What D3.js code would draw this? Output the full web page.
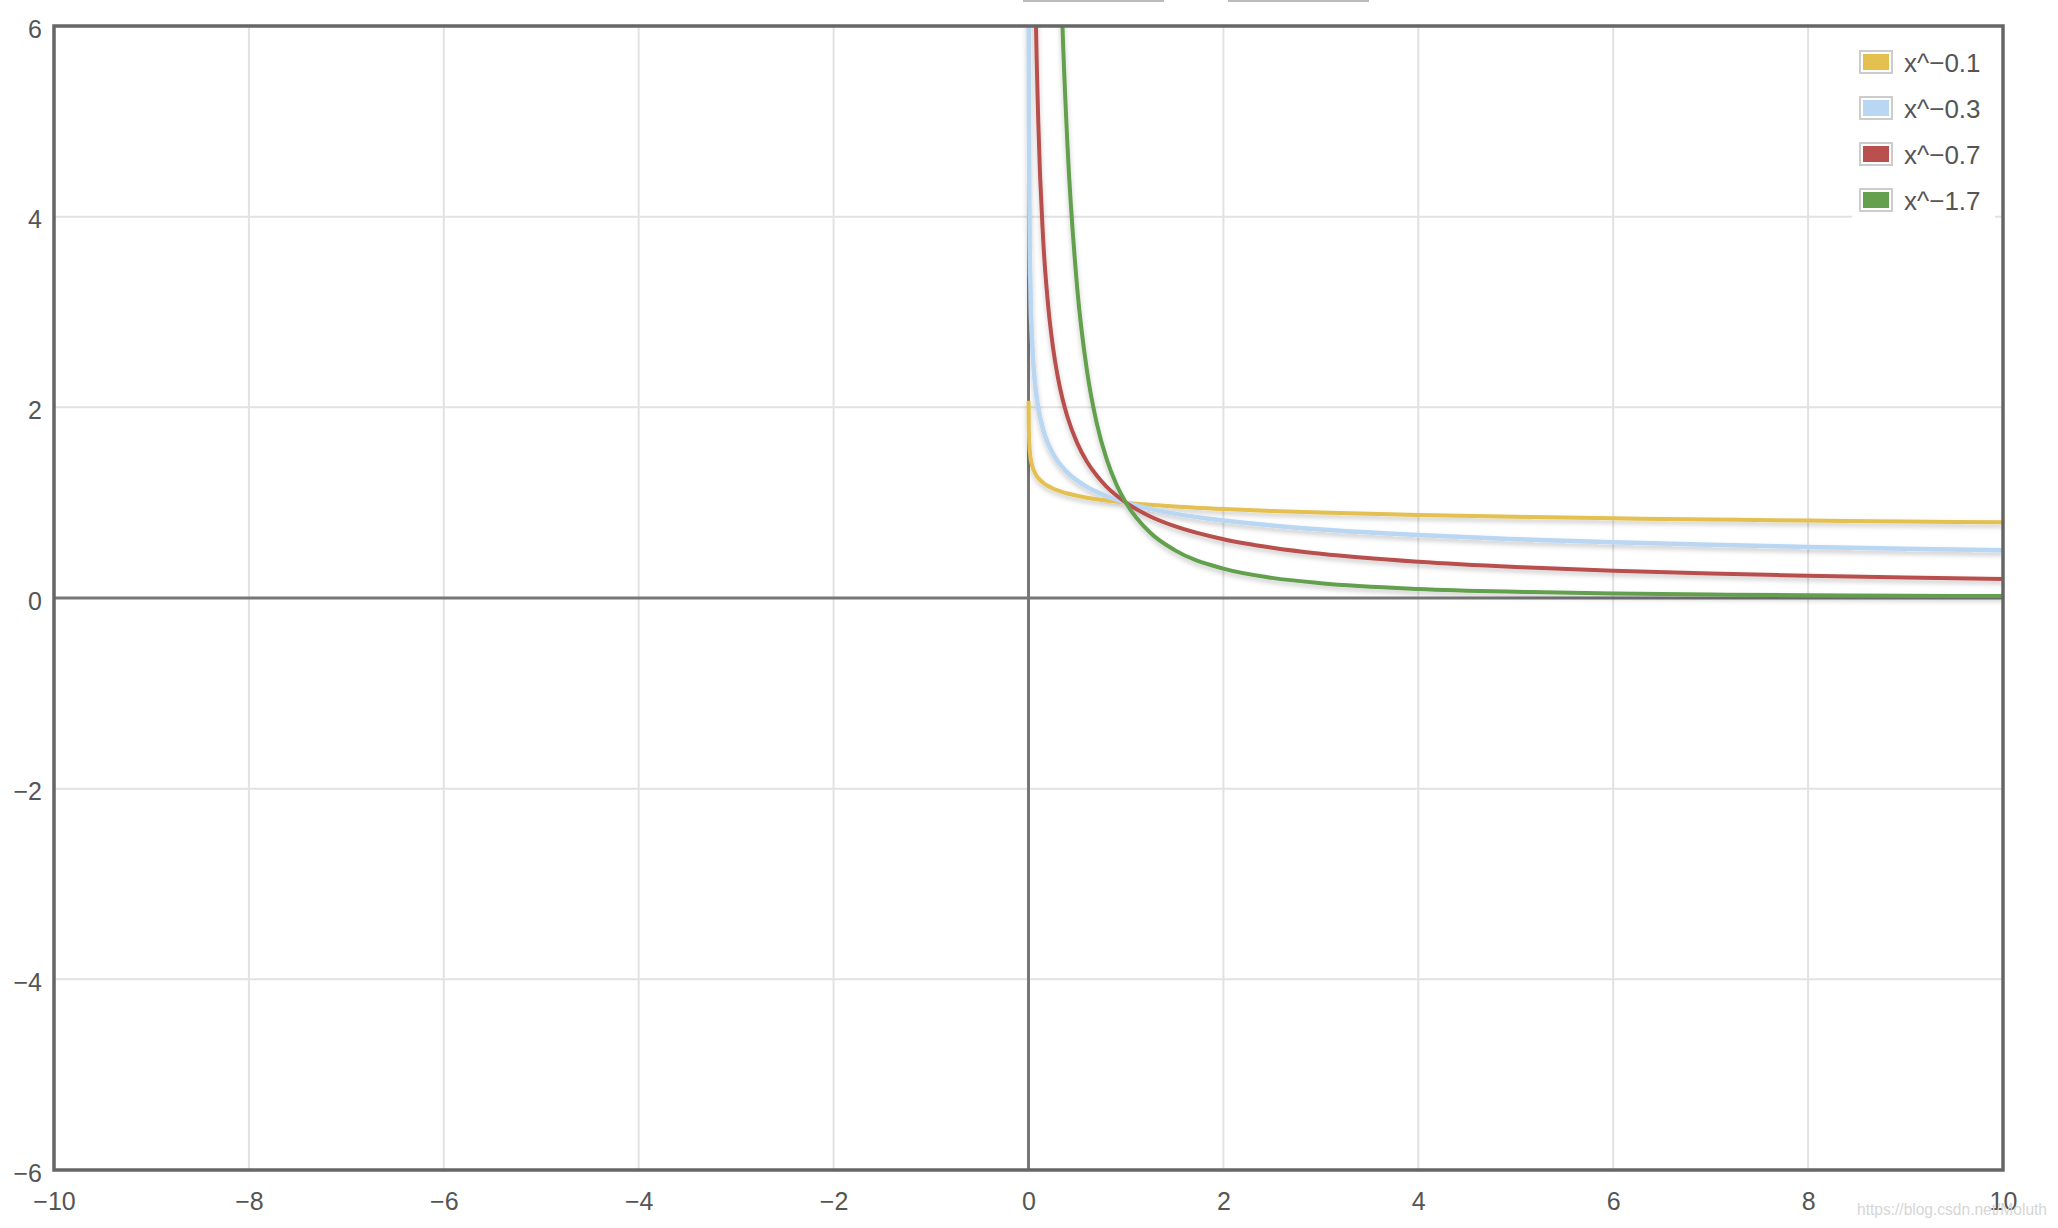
<!DOCTYPE html>
<html>
<head>
<meta charset="utf-8">
<script src="https://cdn.jsdelivr.net/npm/d3@7"></script>
<style>
  html, body { margin: 0; padding: 0; background: #fff; }
  svg { display: block; font-family: "Liberation Sans", Arial, sans-serif; }
  .tick-label { fill: #555; font-size: 25px; }
  .legend-text { fill: #555; font-size: 26px; }
</style>
</head>
<body>
<div id="chart"></div>
<script>
// ---------- DATA ----------
const xTicks = [-10, -8, -6, -4, -2, 0, 2, 4, 6, 8, 10];
const yTicks = [-6, -4, -2, 0, 2, 4, 6];

// sample points (null = far above the plot)
const xSamples = [0.0007, 0.002, 0.005, 0.01, 0.02, 0.04, 0.07, 0.1, 0.15, 0.2, 0.25, 0.3, 0.35, 0.4, 0.5, 0.6, 0.7, 0.8, 0.9, 1, 1.25, 1.5, 2, 2.5, 3, 4, 5, 6, 7, 8, 9, 10];
const yMinus01 = [2.068, 1.862, 1.699, 1.585, 1.479, 1.380, 1.305, 1.259, 1.209, 1.175, 1.149, 1.128, 1.111, 1.096, 1.072, 1.052, 1.036, 1.023, 1.011, 1, 0.978, 0.960, 0.933, 0.912, 0.896, 0.871, 0.851, 0.836, 0.823, 0.812, 0.803, 0.794];
const yMinus03 = [8.84, 6.45, 4.90, 3.98, 3.234, 2.627, 2.221, 1.995, 1.767, 1.621, 1.516, 1.435, 1.370, 1.316, 1.231, 1.166, 1.113, 1.069, 1.032, 1, 0.935, 0.885, 0.812, 0.760, 0.719, 0.660, 0.617, 0.584, 0.558, 0.536, 0.517, 0.501];
const yMinus07 = [null, 77.5, 40.8, 25.1, 15.46, 9.52, 6.43, 5.01, 3.77, 3.085, 2.639, 2.323, 2.085, 1.899, 1.625, 1.430, 1.284, 1.169, 1.077, 1, 0.855, 0.753, 0.616, 0.527, 0.463, 0.379, 0.324, 0.285, 0.256, 0.233, 0.215, 0.200];
const yMinus17 = [null, null, null, null, null, null, 91.9, 50.1, 25.2, 15.43, 10.56, 7.74, 5.958, 4.748, 3.249, 2.383, 1.834, 1.461, 1.196, 1, 0.684, 0.502, 0.308, 0.211, 0.155, 0.0947, 0.0648, 0.0476, 0.0366, 0.0292, 0.0239, 0.0200];

const seriesNames = ["x^−0.1", "x^−0.3", "x^−0.7", "x^−1.7"];
const seriesValues = [yMinus01, yMinus03, yMinus07, yMinus17];
const seriesColors = ["#e3c050", "#b9d6f2", "#b9504e", "#64a04e"];
const seriesWidths = [4, 4.5, 4, 4];

// ---------- LAYOUT ----------
const W = 2058, H = 1228;
const plot = { left: 54, right: 2003, top: 26, bottom: 1170 };

const svg = d3.select("#chart")
  .append("svg")
  .attr("width", W)
  .attr("height", H);

const defs = svg.append("defs");
defs.append("clipPath").attr("id", "plot-clip")
  .append("rect")
  .attr("x", plot.left)
  .attr("y", plot.top)
  .attr("width", plot.right - plot.left)
  .attr("height", plot.bottom - plot.top);

const shadow = defs.append("filter").attr("id", "shadow")
  .attr("x", "-5%").attr("y", "-5%").attr("width", "110%").attr("height", "120%");
shadow.append("feDropShadow")
  .attr("dx", 0).attr("dy", 3)
  .attr("stdDeviation", 2.5)
  .attr("flood-color", "#000")
  .attr("flood-opacity", 0.22);

const x = d3.scaleLinear().domain([-10, 10]).range([plot.left, plot.right]);
const y = d3.scaleLinear().domain([-6, 6]).range([plot.bottom, plot.top]);

// clipped bits of something above the chart
svg.append("g").selectAll("rect")
  .data([[1023, 1164], [1228, 1369]])
  .enter().append("rect")
  .attr("x", d => d[0]).attr("y", 0)
  .attr("width", d => d[1] - d[0]).attr("height", 2)
  .attr("fill", "#bbb");

// ---------- GRID ----------
const grid = svg.append("g").attr("stroke", "#e2e2e2").attr("stroke-width", 2);
grid.selectAll(".gx")
  .data(xTicks.filter(v => v !== 0 && Math.abs(v) !== 10))
  .enter().append("line")
  .attr("x1", d => x(d)).attr("x2", d => x(d))
  .attr("y1", plot.top).attr("y2", plot.bottom);
grid.selectAll(".gy")
  .data(yTicks.filter(v => v !== 0 && Math.abs(v) !== 6))
  .enter().append("line")
  .attr("x1", plot.left).attr("x2", plot.right)
  .attr("y1", d => y(d)).attr("y2", d => y(d));

// zero axes
svg.append("line")
  .attr("x1", x(0)).attr("x2", x(0))
  .attr("y1", plot.top).attr("y2", plot.bottom)
  .attr("stroke", "#777").attr("stroke-width", 3);
svg.append("line")
  .attr("x1", plot.left).attr("x2", plot.right)
  .attr("y1", y(0)).attr("y2", y(0))
  .attr("stroke", "#777").attr("stroke-width", 3);

// ---------- CURVES ----------
const line = d3.line()
  .defined(d => d[1] !== null)
  .x(d => x(d[0]))
  .y(d => y(d[1]))
  .curve(d3.curveMonotoneX);

const curves = svg.append("g")
  .attr("clip-path", "url(#plot-clip)")
  .attr("filter", "url(#shadow)");

seriesValues.forEach((vals, i) => {
  curves.append("path")
    .datum(xSamples.map((xv, j) => [xv, vals[j]]))
    .attr("d", line)
    .attr("fill", "none")
    .attr("stroke", seriesColors[i])
    .attr("stroke-width", seriesWidths[i])
    .attr("stroke-linejoin", "round");
});

// frame
svg.append("rect")
  .attr("x", plot.left).attr("y", plot.top)
  .attr("width", plot.right - plot.left)
  .attr("height", plot.bottom - plot.top)
  .attr("fill", "none")
  .attr("stroke", "#666")
  .attr("stroke-width", 3.5);

// ---------- AXES (labels only) ----------
const xAxis = svg.append("g")
  .attr("transform", `translate(0,${plot.bottom})`)
  .call(d3.axisBottom(x).tickValues(xTicks).tickSize(0).tickPadding(0));
xAxis.select(".domain").remove();
xAxis.selectAll("text")
  .attr("class", "tick-label")
  .attr("y", 40)
  .attr("dy", 0)
  .attr("font-family", null)
  .attr("font-size", null)
  .attr("fill", null);

const yAxis = svg.append("g")
  .attr("transform", `translate(${plot.left},0)`)
  .call(d3.axisLeft(y).tickValues(yTicks).tickSize(0).tickPadding(0));
yAxis.select(".domain").remove();
yAxis.selectAll("text")
  .attr("class", "tick-label")
  .attr("x", -12)
  .attr("dy", 11)
  .attr("font-family", null)
  .attr("font-size", null)
  .attr("fill", null);

// ---------- LEGEND ----------
const legend = svg.append("g");
legend.append("rect")
  .attr("x", 1852).attr("y", 36)
  .attr("width", 143).attr("height", 186)
  .attr("fill", "#fff");

const rows = legend.selectAll(".row")
  .data(seriesNames)
  .enter().append("g")
  .attr("transform", (d, i) => `translate(1859,${50 + i * 46})`);
rows.append("rect")
  .attr("x", 1).attr("y", 1)
  .attr("width", 32).attr("height", 22)
  .attr("fill", "#fff")
  .attr("stroke", "#ccc")
  .attr("stroke-width", 2);
rows.append("rect")
  .attr("x", 4).attr("y", 4)
  .attr("width", 26).attr("height", 16)
  .attr("fill", (d, i) => seriesColors[i]);
rows.append("text")
  .attr("class", "legend-text")
  .attr("x", 45)
  .attr("y", 22)
  .text(d => d);

// watermark
svg.append("text")
  .attr("x", 1857).attr("y", 1215)
  .attr("fill", "#d6d6d6")
  .attr("font-size", 16)
  .attr("textLength", 190)
  .attr("lengthAdjust", "spacingAndGlyphs")
  .text("https://blog.csdn.net/Moluth");
</script>
</body>
</html>
